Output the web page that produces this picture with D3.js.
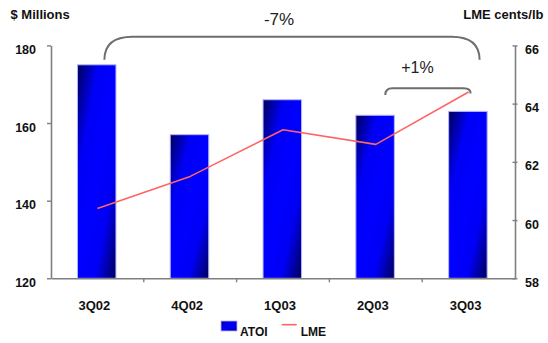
<!DOCTYPE html>
<html>
<head>
<meta charset="utf-8">
<script src="https://cdn.jsdelivr.net/npm/d3@7"></script>
<style>
  html, body { margin: 0; padding: 0; background: #fff; }
  svg { display: block; font-family: "Liberation Sans", Arial, sans-serif; }
</style>
</head>
<body>
<svg id="chart" width="548" height="343"></svg>
<script>
// Quarterly ATOI ($ millions) against the LME aluminium price (cents/lb)
const quarters = ["3Q02", "4Q02", "1Q03", "2Q03", "3Q03"];
const atoi = [175, 157, 166, 162, 163];
const lme = [60.4, 61.5, 63.1, 62.6, 64.4];
const leftTicks = [120, 140, 160, 180];
const rightTicks = [58, 60, 62, 64, 66];
const leftTitle = "$ Millions";
const rightTitle = "LME cents/lb";
const changeLabels = ["-7%", "+1%"];
const seriesNames = ["ATOI", "LME"];

const svg = d3.select("#chart");
const axisColor = "#7f7f7f";

const plot = { left: 51, right: 515, top: 45.4, bottom: 278.3 };

const x = d3.scaleBand()
  .domain(quarters)
  .range([plot.left, plot.right])
  .paddingInner(0.585)
  .paddingOuter(0.2925);

const yL = d3.scaleLinear().domain([120, 180]).range([plot.bottom, plot.top]);
const yR = d3.scaleLinear().domain([58, 66]).range([plot.bottom, plot.top]);

// Diagonal shading for the bars: dark corners, bright blue middle
const defs = svg.append("defs");
const grad = defs.append("linearGradient")
  .attr("id", "barShade")
  .attr("x1", 0).attr("y1", 0).attr("x2", 1).attr("y2", 1);
[[0, "#00005a"], [0.27, "#0000f5"], [0.5, "#0000ff"], [0.73, "#0000f5"], [1, "#00005a"]]
  .forEach(([o, c]) => grad.append("stop").attr("offset", o).attr("stop-color", c));

const swGrad = defs.append("linearGradient")
  .attr("id", "swatchShade")
  .attr("x1", 0).attr("y1", 0).attr("x2", 1).attr("y2", 1);
[[0, "#000080"], [0.35, "#0000ee"], [0.65, "#0000ee"], [1, "#000080"]]
  .forEach(([o, c]) => swGrad.append("stop").attr("offset", o).attr("stop-color", c));

// Bars
svg.append("g").selectAll("rect")
  .data(quarters)
  .join("rect")
  .attr("x", d => x(d) - 0.7)
  .attr("y", (d, i) => yL(atoi[i]))
  .attr("width", x.bandwidth())
  .attr("height", (d, i) => yL(120) - yL(atoi[i]))
  .attr("fill", "url(#barShade)")
  .attr("stroke", "#b4b4ff")
  .attr("stroke-width", 1);

// Left axis
const gL = svg.append("g")
  .attr("transform", `translate(${plot.left},0)`)
  .call(d3.axisLeft(yL).tickValues(leftTicks).tickSize(4).tickSizeOuter(0).tickPadding(11));
gL.select(".domain").attr("stroke", axisColor).attr("stroke-width", 1.6);
gL.selectAll(".tick line").attr("stroke", axisColor).attr("stroke-width", 1.4);
gL.selectAll(".tick text")
  .attr("dy", "0.72em").attr("y", -1)
  .attr("font-size", 12.5).attr("font-weight", "bold").attr("fill", "#111")
  .attr("font-family", "'Liberation Sans', Arial, sans-serif");

// Right axis
const gR = svg.append("g")
  .attr("transform", `translate(${plot.right},0)`)
  .call(d3.axisRight(yR).tickValues(rightTicks).tickSize(3).tickSizeOuter(0).tickPadding(7));
gR.select(".domain").attr("stroke", axisColor).attr("stroke-width", 1.6);
gR.selectAll(".tick line").attr("x1", -2.5).attr("x2", 2.5)
  .attr("stroke", axisColor).attr("stroke-width", 1.4);
gR.selectAll(".tick text")
  .attr("dy", "0.72em").attr("y", -1)
  .attr("font-size", 12.5).attr("font-weight", "bold").attr("fill", "#111")
  .attr("font-family", "'Liberation Sans', Arial, sans-serif");

// Bottom axis: labels at category centres, ticks on category boundaries
const gB = svg.append("g")
  .attr("transform", `translate(0,${plot.bottom})`)
  .call(d3.axisBottom(x).tickSize(0).tickPadding(22));
gB.select(".domain").attr("stroke", axisColor).attr("stroke-width", 1.6);
gB.selectAll(".tick text")
  .attr("dx", -3)
  .attr("font-size", 13).attr("font-weight", "bold").attr("fill", "#111")
  .attr("font-family", "'Liberation Sans', Arial, sans-serif");
gB.selectAll(".boundary")
  .data(quarters.slice(1))
  .join("line")
  .attr("class", "boundary")
  .attr("x1", d => x(d) - x.step() * x.paddingInner() / 2)
  .attr("x2", d => x(d) - x.step() * x.paddingInner() / 2)
  .attr("y1", 0).attr("y2", 4)
  .attr("stroke", axisColor).attr("stroke-width", 1.4);

// LME line
const cx = d => x(d) + x.bandwidth() / 2;
svg.append("path")
  .datum(quarters)
  .attr("fill", "none")
  .attr("stroke", "#ff6464")
  .attr("stroke-width", 1.6)
  .attr("stroke-linejoin", "round")
  .attr("d", d3.line().x(d => cx(d)).y((d, i) => yR(lme[i])));

// Axis titles
svg.append("text").attr("x", 10.5).attr("y", 18.5)
  .attr("font-size", 13).attr("font-weight", "bold").attr("fill", "#111")
  .text(leftTitle);
svg.append("text").attr("x", 543.5).attr("y", 18.5).attr("text-anchor", "end")
  .attr("font-size", 13).attr("font-weight", "bold").attr("fill", "#111")
  .text(rightTitle);

// Change brackets
function bracket(x0, y0, x1, y1, top, rx, ry) {
  const p = d3.path();
  p.moveTo(x0, y0);
  p.bezierCurveTo(x0, top + ry * 0.35, x0 + rx * 0.35, top, x0 + rx, top);
  p.lineTo(x1 - rx, top);
  p.bezierCurveTo(x1 - rx * 0.35, top, x1, top + ry * 0.35, x1, y1);
  return p.toString();
}
const yearStart = cx(quarters[0]) + 7;
const yearEnd = cx(quarters[4]) + 11;
const qStart = cx(quarters[3]) + 9.5;
const qEnd = cx(quarters[4]) + 2;

svg.append("path")
  .attr("d", bracket(yearStart, yL(atoi[0]) - 5, yearEnd, yL(atoi[0]) - 5, 36.7, 28, 22))
  .attr("fill", "none").attr("stroke", "#6e6e6e").attr("stroke-width", 2);
svg.append("path")
  .attr("d", bracket(qStart, 95, qEnd, 93.5, 88.3, 7, 6))
  .attr("fill", "none").attr("stroke", "#6e6e6e").attr("stroke-width", 2);

svg.append("text").attr("x", (yearStart + yearEnd) / 2 - 13).attr("y", 24.5)
  .attr("text-anchor", "middle").attr("font-size", 17).attr("fill", "#222")
  .text(changeLabels[0]);
svg.append("text").attr("x", (qStart + qEnd) / 2 - 10.5).attr("y", 73)
  .attr("text-anchor", "middle").attr("font-size", 16).attr("fill", "#222")
  .text(changeLabels[1]);

// Legend
const lg = svg.append("g");
lg.append("rect").attr("x", 221).attr("y", 321).attr("width", 16).attr("height", 10)
  .attr("fill", "url(#swatchShade)").attr("stroke", "#b4b4ff").attr("stroke-width", 0.8);
lg.append("text").attr("x", 240).attr("y", 336)
  .attr("font-size", 12).attr("font-weight", "bold").attr("fill", "#111")
  .text(seriesNames[0]);
lg.append("line").attr("x1", 281.7).attr("x2", 296.7).attr("y1", 324.7).attr("y2", 324.7)
  .attr("stroke", "#ff6464").attr("stroke-width", 1.6);
lg.append("text").attr("x", 300.7).attr("y", 336)
  .attr("font-size", 12).attr("font-weight", "bold").attr("fill", "#111")
  .text(seriesNames[1]);
</script>
</body>
</html>
